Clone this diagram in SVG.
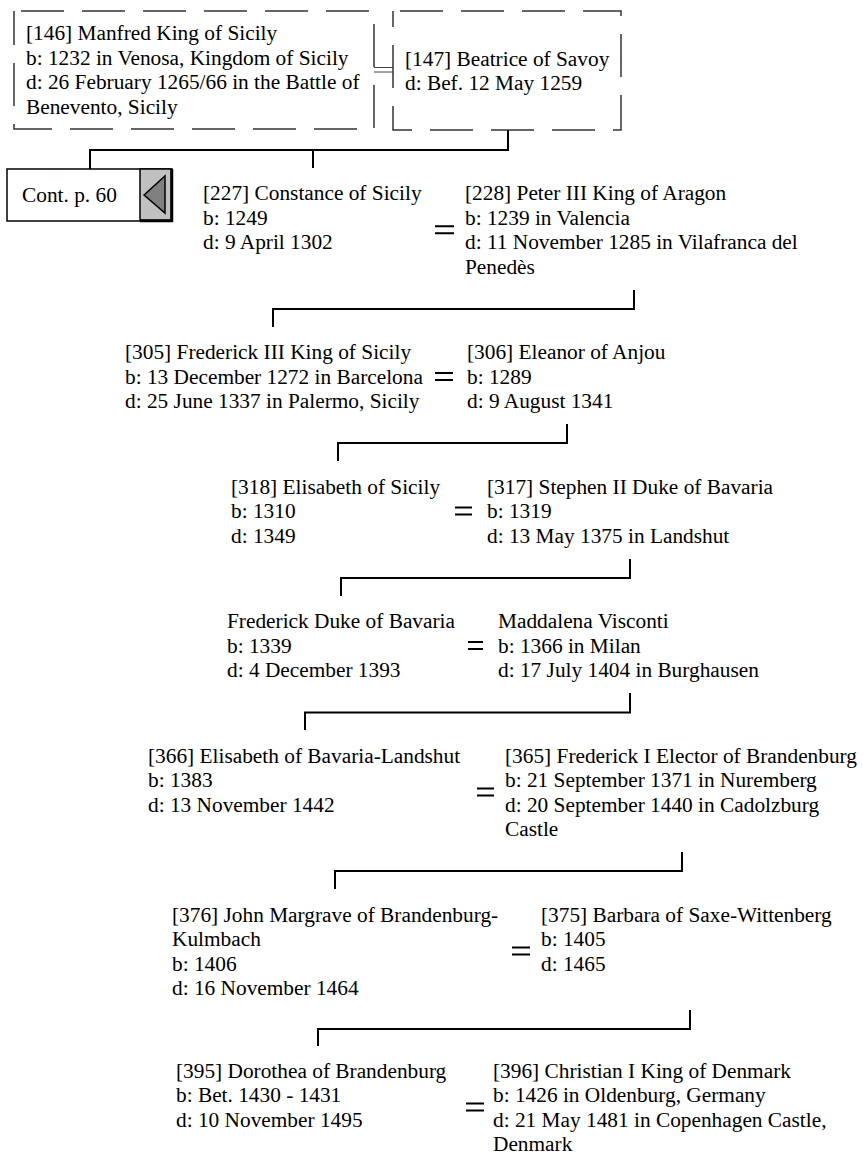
<svg xmlns="http://www.w3.org/2000/svg" width="863" height="1156" viewBox="0 0 863 1156">
<style>
text{font-family:"Liberation Serif","Times New Roman",serif;font-size:21.33px;fill:#000}
.box{fill:#fff;stroke:#333;stroke-width:1.5;stroke-dasharray:43 18}
.ln{fill:none;stroke:#000;stroke-width:2}
.eq{stroke:#000;stroke-width:2}
.dbl{stroke:#444;stroke-width:1}
</style>
<rect width="863" height="1156" fill="#fff"/>
<g id="connectors">
<line class="dbl" x1="374" y1="67.5" x2="393" y2="67.5"/>
<line class="dbl" x1="374" y1="72" x2="393" y2="72"/>
<path class="ln" d="M508,130 V150 H90 V169 M313,150 V168"/>
<path class="ln" d="M634,290 V309 H273 V327"/>
<path class="ln" d="M567,424 V443 H338 V461"/>
<path class="ln" d="M630,559 V578 H341 V596"/>
<path class="ln" d="M630,693 V712.5 H305 V730"/>
<path class="ln" d="M682,852 V871 H335 V889"/>
<path class="ln" d="M690,1010 V1029 H318 V1046"/>
<path class="eq" d="M435,226.3 H454 M435,233.3 H454"/>
<path class="eq" d="M435,373 H453 M435,380 H453"/>
<path class="eq" d="M455,507.5 H472 M455,514.5 H472"/>
<path class="eq" d="M468,642 H483 M468,649 H483"/>
<path class="eq" d="M477,788.5 H494 M477,795.5 H494"/>
<path class="eq" d="M512,947.5 H530 M512,954.5 H530"/>
<path class="eq" d="M466,1103.5 H484 M466,1110.5 H484"/>
</g>
<g id="n146">
<rect class="box" x="14" y="11" width="360" height="118" stroke-dashoffset="54"/>
<text><tspan x="26" y="40">[146] Manfred King of Sicily</tspan><tspan x="26" y="64.5">b: 1232 in Venosa, Kingdom of Sicily</tspan><tspan x="26" y="89">d: 26 February 1265/66 in the Battle of</tspan><tspan x="26" y="113.5">Benevento, Sicily</tspan></text>
</g>
<g id="n147">
<rect class="box" x="393" y="11" width="228" height="119" stroke-dashoffset="54"/>
<text><tspan x="405" y="65.5">[147] Beatrice of Savoy</tspan><tspan x="405" y="90">d: Bef. 12 May 1259</tspan></text>
</g>
<g id="cont">
<rect x="7" y="169" width="165" height="52" fill="#fff" stroke="#000" stroke-width="1.5"/>
<rect x="140" y="169" width="31" height="51" fill="#c0c0c0" stroke="#000" stroke-width="1.5"/>
<path d="M172,169 V221 H140" fill="none" stroke="#000" stroke-width="2.5"/>
<polygon points="144,195 165,176 165,213" fill="#808080" stroke="#000" stroke-width="1.5"/>
<text x="22" y="202">Cont. p. 60</text>
</g>
<g id="n227"><text><tspan x="203" y="200">[227] Constance of Sicily</tspan><tspan x="203" y="224.5">b: 1249</tspan><tspan x="203" y="249">d: 9 April 1302</tspan></text></g>
<g id="n228"><text><tspan x="465" y="200">[228] Peter III King of Aragon</tspan><tspan x="465" y="224.5">b: 1239 in Valencia</tspan><tspan x="465" y="249">d: 11 November 1285 in Vilafranca del</tspan><tspan x="465" y="273.5">Penedès</tspan></text></g>
<g id="n305"><text><tspan x="125" y="359">[305] Frederick III King of Sicily</tspan><tspan x="125" y="383.5">b: 13 December 1272 in Barcelona</tspan><tspan x="125" y="408">d: 25 June 1337 in Palermo, Sicily</tspan></text></g>
<g id="n306"><text><tspan x="467" y="359">[306] Eleanor of Anjou</tspan><tspan x="467" y="383.5">b: 1289</tspan><tspan x="467" y="408">d: 9 August 1341</tspan></text></g>
<g id="n318"><text><tspan x="231" y="493.5">[318] Elisabeth of Sicily</tspan><tspan x="231" y="518">b: 1310</tspan><tspan x="231" y="542.5">d: 1349</tspan></text></g>
<g id="n317"><text><tspan x="487" y="493.5">[317] Stephen II Duke of Bavaria</tspan><tspan x="487" y="518">b: 1319</tspan><tspan x="487" y="542.5">d: 13 May 1375 in Landshut</tspan></text></g>
<g id="nFred"><text><tspan x="227" y="628">Frederick Duke of Bavaria</tspan><tspan x="227" y="652.5">b: 1339</tspan><tspan x="227" y="677">d: 4 December 1393</tspan></text></g>
<g id="nMadd"><text><tspan x="498" y="628">Maddalena Visconti</tspan><tspan x="498" y="652.5">b: 1366 in Milan</tspan><tspan x="498" y="677">d: 17 July 1404 in Burghausen</tspan></text></g>
<g id="n366"><text><tspan x="148" y="762.5">[366] Elisabeth of Bavaria-Landshut</tspan><tspan x="148" y="787">b: 1383</tspan><tspan x="148" y="811.5">d: 13 November 1442</tspan></text></g>
<g id="n365"><text><tspan x="505" y="762.5">[365] Frederick I Elector of Brandenburg</tspan><tspan x="505" y="787">b: 21 September 1371 in Nuremberg</tspan><tspan x="505" y="811.5">d: 20 September 1440 in Cadolzburg</tspan><tspan x="505" y="836">Castle</tspan></text></g>
<g id="n376"><text><tspan x="172" y="921.5">[376] John Margrave of Brandenburg-</tspan><tspan x="172" y="946">Kulmbach</tspan><tspan x="172" y="970.5">b: 1406</tspan><tspan x="172" y="995">d: 16 November 1464</tspan></text></g>
<g id="n375"><text><tspan x="541" y="921.5">[375] Barbara of Saxe-Wittenberg</tspan><tspan x="541" y="946">b: 1405</tspan><tspan x="541" y="970.5">d: 1465</tspan></text></g>
<g id="n395"><text><tspan x="176" y="1077.5">[395] Dorothea of Brandenburg</tspan><tspan x="176" y="1102">b: Bet. 1430 - 1431</tspan><tspan x="176" y="1126.5">d: 10 November 1495</tspan></text></g>
<g id="n396"><text><tspan x="493" y="1077.5">[396] Christian I King of Denmark</tspan><tspan x="493" y="1102">b: 1426 in Oldenburg, Germany</tspan><tspan x="493" y="1126.5">d: 21 May 1481 in Copenhagen Castle,</tspan><tspan x="493" y="1151">Denmark</tspan></text></g>
</svg>
